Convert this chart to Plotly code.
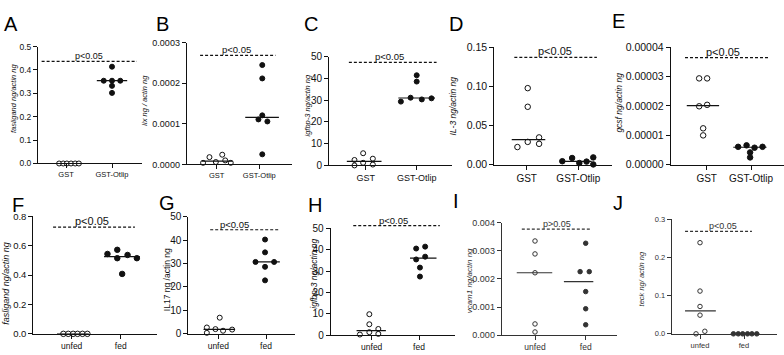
import plotly.graph_objects as go
import numpy as np

# ---------------- data ----------------
cats_top = ["GST", "GST-Otlip"]
cats_bot = ["unfed", "fed"]

# A  fasligand (GST / GST-Otlip)
A_g0 = [0, 0, 0, 0, 0, 0]
A_g0_dx = [-0.15, -0.06, 0.02, 0.11, 0.20, 0.28]
A_g1 = [0.414, 0.354, 0.354, 0.354, 0.332, 0.302]
A_g1_dx = [0, -0.18, 0, 0.18, 0, 0]
A_p = 0.437

# B  lix
B_g0 = [4e-6, 1.8e-5, 6e-6, 2.4e-5, 1.0e-5, 4e-6]
B_g0_dx = [-0.32, -0.17, -0.02, 0.13, 0.20, 0.33]
B_g1 = [2.45e-4, 2.12e-4, 1.21e-4, 1.11e-4, 1.06e-4, 2.5e-5]
B_g1_dx = [0.07, 0.07, 0.07, -0.02, 0.19, 0.07]
B_p = 0.000269

# C  igfbp-3 (GST / GST-Otlip)
C_g0 = [2.5, 0.0, 5.6, 1.2, 3.1, 0.4]
C_g0_dx = [-0.22, -0.22, -0.05, -0.05, 0.14, 0.14]
C_g1 = [41.4, 38.5, 29.3, 31.1, 30.3, 30.8]
C_g1_dx = [0, 0, -0.31, -0.12, 0.10, 0.29]
C_p = 47.3

# D  IL-3
D_g0 = [0.0978, 0.074, 0.0226, 0.0292, 0.0349, 0.0267]
D_g0_dx = [0.02, 0.02, -0.18, 0.02, 0.24, 0.24]
D_g1 = [0.0045, 0.0086, 0.0022, 0.0040, 0.0094, 0.0004]
D_g1_dx = [-0.31, -0.12, 0.02, 0.16, 0.29, 0.29]
D_p = 0.137

# E  gcsf
E_g0 = [2.94e-5, 2.94e-5, 1.99e-5, 2.04e-5, 1.24e-5, 1.0e-5]
E_g0_dx = [-0.17, 0.01, -0.17, 0.01, -0.08, -0.08]
E_g1 = [6.1e-6, 6.6e-6, 5.8e-6, 6.1e-6, 4.2e-6, 2.5e-6]
E_g1_dx = [-0.29, -0.10, 0.08, 0.26, -0.02, -0.02]
E_p = 0.0000365

# F  fasligand (unfed / fed)
F_g0 = [0, 0, 0, 0, 0, 0]
F_g0_dx = [-0.17, -0.07, 0.03, 0.12, 0.22, 0.32]
F_g1 = [0.544, 0.572, 0.515, 0.537, 0.515, 0.408]
F_g1_dx = [-0.27, -0.07, -0.07, 0.14, 0.33, 0.03]
F_p = 0.726

# G  IL17
G_g0 = [2.6, 0.3, 6.8, 1.9, 1.2, 1.7]
G_g0_dx = [-0.24, -0.24, 0.03, -0.06, 0.10, 0.29]
G_g1 = [40.3, 34.8, 30.7, 30.7, 28.6, 22.8]
G_g1_dx = [-0.02, -0.02, -0.22, 0.17, -0.02, -0.02]
G_p = 44.5

# H  igfbp-3 (unfed / fed)
H_g0 = [9.8, 5.1, 0.3, 1.4, 2.9, 0.6]
H_g0_dx = [-0.05, -0.05, -0.25, -0.05, 0.14, 0.14]
H_g1 = [40.5, 41.4, 35.4, 36.7, 31.6, 27.4]
H_g1_dx = [-0.06, 0.13, -0.06, 0.13, 0.02, 0.02]
H_p = 51.2

# I  vcam1
I_g0 = [0.00335, 0.00289, 0.00222, 0.00040, 0.000115]
I_g0_dx = [0, 0, 0, 0, 0]
I_g1 = [0.00327, 0.00226, 0.00226, 0.00155, 0.00094, 0.00037]
I_g1_dx = [0, -0.11, 0.07, 0, 0, 0]
I_p = 0.00377

# J  teck
J_g0 = [0.2386, 0.112, 0.0716, 0.0489, 0.0, 0.0067]
J_g0_dx = [0, 0, 0, 0, -0.09, 0.11]
J_g1 = [0, 0, 0, 0, 0, 0]
J_g1_dx = [-0.24, -0.13, -0.03, 0.08, 0.18, 0.29]
J_p = 0.268

panels = [
    dict(L="A", cats=cats_top, g0=A_g0, d0=A_g0_dx, g1=A_g1, d1=A_g1_dx, p=A_p, ptxt="p&lt;0.05",
         yt=[0, 0.1, 0.2, 0.3, 0.4, 0.5], fmt="{:.1f}", title="fasligand ng/actin ng", it=True),
    dict(L="B", cats=cats_top, g0=B_g0, d0=B_g0_dx, g1=B_g1, d1=B_g1_dx, p=B_p, ptxt="p&lt;0.05",
         yt=[0, 0.0001, 0.0002, 0.0003], fmt="{:.4f}", title="lix ng / actin ng", it=True),
    dict(L="C", cats=cats_top, g0=C_g0, d0=C_g0_dx, g1=C_g1, d1=C_g1_dx, p=C_p, ptxt="p&lt;0.05",
         yt=[0, 10, 20, 30, 40, 50], fmt="{:.0f}", title="igfbp-3 ng/actin ng", it=True),
    dict(L="D", cats=cats_top, g0=D_g0, d0=D_g0_dx, g1=D_g1, d1=D_g1_dx, p=D_p, ptxt="p&lt;0.05",
         yt=[0, 0.05, 0.10, 0.15], fmt="{:.2f}", title="IL-3 ng/actin ng", it=True),
    dict(L="E", cats=cats_top, g0=E_g0, d0=E_g0_dx, g1=E_g1, d1=E_g1_dx, p=E_p, ptxt="p&lt;0.05",
         yt=[0, 0.00001, 0.00002, 0.00003, 0.00004], fmt="{:.5f}", title="gcsf ng/actin ng", it=True),
    dict(L="F", cats=cats_bot, g0=F_g0, d0=F_g0_dx, g1=F_g1, d1=F_g1_dx, p=F_p, ptxt="p&lt;0.05",
         yt=[0, 0.2, 0.4, 0.6, 0.8], fmt="{:.1f}", title="fasligand ng/actin ng", it=True),
    dict(L="G", cats=cats_bot, g0=G_g0, d0=G_g0_dx, g1=G_g1, d1=G_g1_dx, p=G_p, ptxt="p&lt;0.05",
         yt=[0, 10, 20, 30, 40, 50], fmt="{:.0f}", title="IL17 ng /actin ng", it=False),
    dict(L="H", cats=cats_bot, g0=H_g0, d0=H_g0_dx, g1=H_g1, d1=H_g1_dx, p=H_p, ptxt="p&lt;0.05",
         yt=[0, 10, 20, 30, 40, 50], fmt="{:.0f}", title="igfbp-3 ng/actin ng", it=True),
    dict(L="I", cats=cats_bot, g0=I_g0, d0=I_g0_dx, g1=I_g1, d1=I_g1_dx, p=I_p, ptxt="p&gt;0.05",
         yt=[0, 0.001, 0.002, 0.003, 0.004], fmt="{:.3f}", title="vcam1 ng/actin ng", it=True),
    dict(L="J", cats=cats_bot, g0=J_g0, d0=J_g0_dx, g1=J_g1, d1=J_g1_dx, p=J_p, ptxt="p&lt;0.05",
         yt=[0, 0.1, 0.2, 0.3], fmt="{:.1f}", title="teck ng/ actin ng", it=True),
]

# ---------------- layout geometry (pixels) ----------------
W, H = 784, 355
# x0, x1, y_top, y_bottom, cat0 px, cat1 px
geom = [
    (38, 142, 42, 163, 66, 112),
    (186.7, 292, 38, 164, 216.7, 259.3),
    (329, 452, 52.3, 165, 365.7, 416.7),
    (494.3, 612, 42.7, 164.3, 526.7, 578.3),
    (670.7, 784, 42.7, 164.3, 706.7, 751),
    (33.3, 156.7, 217.7, 339.3, 71.7, 120.7),
    (188.3, 295, 218.3, 339, 218.3, 266),
    (330.7, 455, 230, 340.7, 371.7, 419),
    (501.7, 617, 224.3, 340.7, 535, 585.7),
    (671.7, 777, 220.7, 339.3, 700, 744),
]
# median line extents (left,right) for group0 / group1
med_ext = [
    ((-0.30, 0.35), (-0.33, 0.33)),
    ((-0.35, 0.37), (-0.33, 0.46)),
    ((-0.37, 0.31), (-0.36, 0.36)),
    ((-0.29, 0.36), (-0.32, 0.26)),
    ((-0.45, 0.28), (-0.40, 0.35)),
    ((-0.30, 0.35), (-0.34, 0.39)),
    ((-0.31, 0.35), (-0.27, 0.29)),
    ((-0.32, 0.30), (-0.19, 0.37)),
    ((-0.36, 0.34), (-0.43, 0.15)),
    ((-0.34, 0.36), (-0.30, 0.35)),
]
# dashed line x extents and p-text x (category units)
pline = [
    (-0.53, 1.54, 0.51), (-0.39, 1.38, 0.47), (-0.33, 1.39, 0.46), (-0.24, 1.36, 0.54),
    (-0.49, 1.39, 0.37), (-0.38, 1.29, 0.41), (-0.17, 1.26, 0.35), (-0.39, 1.44, 0.46),
    (-0.26, 1.10, 0.43), (-0.34, 1.18, 0.52),
]
# font sizes: ytick, xtick, title, ptext ; marker size
fs = [
    (8.5, 7.5, 7.5, 9, 5), (9, 7.5, 7.5, 9.5, 5), (10, 9, 7.5, 9.5, 5), (10.5, 10, 8.5, 11, 5.5),
    (10.5, 10, 8.5, 11, 5.5), (9.5, 8.5, 9, 11, 5.5), (10, 8.5, 8.5, 9.5, 5),
    (10, 8.5, 8.5, 9.5, 5), (9, 8.5, 8, 9, 4.5), (7.5, 7.5, 7.5, 9, 4.5),
]
# panel letter (left px, cap top px) and axis-title centre (px)
letter_pos = [(2, 10), (154, 10), (302, 10), (447, 10), (610, 7),
              (10, 198), (157, 195), (306, 197), (451, 193), (611, 195)]
title_pos = [(13.3, 95), (145, 98), (308, 103), (453, 103), (619, 100),
             (6.5, 287), (167.7, 283), (314, 277), (469, 285), (641, 283)]

FONT = "Arial, 'Liberation Sans', sans-serif"
INK = "#111111"

fig = go.Figure()
layout = dict(width=W, height=H, margin=dict(l=0, r=0, t=0, b=0, pad=0),
              paper_bgcolor="white", plot_bgcolor="white", showlegend=False,
              font=dict(family=FONT, color=INK))
annotations, shapes = [], []

for i, (pn, g, me, pl, f) in enumerate(zip(panels, geom, med_ext, pline, fs), start=1):
    x0, x1, yt, yb, c0, c1 = g
    s = c1 - c0
    xr = [(x0 - c0) / s, (x1 - c0) / s]
    top = pn["yt"][-1]
    xs = "" if i == 1 else str(i)
    ink = "#333333" if pn["L"] in ("I", "J") else INK
    layout["xaxis" + xs] = dict(
        domain=[x0 / W, x1 / W], range=xr, anchor="y" + xs,
        tickvals=[0, 1], ticktext=pn["cats"], showgrid=False, zeroline=False,
        showline=True, linecolor=ink, linewidth=1, ticks="outside", ticklen=4,
        tickwidth=1, tickcolor=ink, tickfont=dict(size=f[1], color=ink))
    layout["yaxis" + xs] = dict(
        domain=[(H - yb) / H, (H - yt) / H], range=[0, top], anchor="x" + xs,
        tickvals=pn["yt"], ticktext=[pn["fmt"].format(v) for v in pn["yt"]],
        showgrid=False, zeroline=False, showline=True, linecolor=ink, linewidth=1,
        ticks="outside", ticklen=4, tickwidth=1, tickcolor=ink,
        tickfont=dict(size=f[0], color=ink))

    # points
    for gi, (vals, dx, filled) in enumerate([(pn["g0"], pn["d0"], False), (pn["g1"], pn["d1"], True)]):
        fig.add_trace(go.Scatter(
            x=[gi + d for d in dx], y=vals, mode="markers", cliponaxis=False,
            xaxis="x" + xs, yaxis="y" + xs, hoverinfo="skip",
            marker=dict(size=f[4], symbol="circle",
                        color=ink if filled else "white",
                        line=dict(color=ink, width=1))))
        med = float(np.median(vals))
        l, r = me[gi]
        fig.add_trace(go.Scatter(
            x=[gi + l, gi + r], y=[med, med], mode="lines",
            xaxis="x" + xs, yaxis="y" + xs, hoverinfo="skip",
            line=dict(color=ink, width=1.2)))

    # significance line + text
    shapes.append(dict(type="line", xref="x" + xs, yref="y" + xs + " domain",
                       x0=pl[0], x1=pl[1], y0=pn["p"] / top, y1=pn["p"] / top,
                       line=dict(color=ink, width=1.2, dash="3px,2px")))
    annotations.append(dict(xref="x" + xs, yref="y" + xs + " domain", x=pl[2],
                            y=pn["p"] / top, yanchor="bottom", xanchor="center",
                            yshift=-2, text=pn["ptxt"], showarrow=False,
                            font=dict(size=f[3], color=ink)))
    # axis title
    tx, ty = title_pos[i - 1]
    ttl = "<i>%s</i>" % pn["title"] if pn["it"] else pn["title"]
    annotations.append(dict(xref="paper", yref="paper", x=tx / W, y=(H - ty) / H,
                            xanchor="center", yanchor="middle", textangle=-90,
                            text=ttl, showarrow=False, font=dict(size=f[2], color=ink)))
    # panel letter
    lx, ly = letter_pos[i - 1]
    annotations.append(dict(xref="paper", yref="paper", x=lx / W, y=(H - ly + 5) / H,
                            xanchor="left", yanchor="top", text=pn["L"], showarrow=False,
                            font=dict(size=20, color="#000000")))

layout["annotations"] = annotations
layout["shapes"] = shapes
fig.update_layout(**layout)
fig.write_html("out.html")
